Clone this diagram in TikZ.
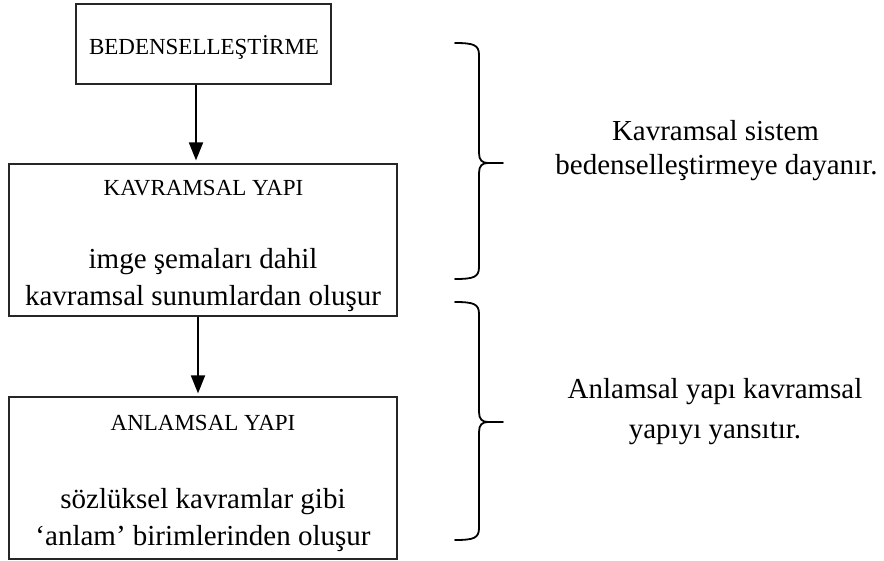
\documentclass[tikz,border=0pt]{standalone}
\usepackage{fontspec}
\setmainfont{Liberation Serif}
\usetikzlibrary{arrows.meta}
\begin{document}
\begin{tikzpicture}[x=1pt,y=-1pt,
  framebox/.style={draw=black!85,line width=1.2pt,inner sep=0pt},
  headtext/.style={anchor=base,font=\fontsize{23}{27}\selectfont},
  bodytext/.style={anchor=base,font=\fontsize{29}{34}\selectfont},
  flow/.style={draw=black,line width=1.8pt,-{Triangle[length=18pt,width=14pt]},shorten >=3pt},
  bracestyle/.style={draw=black,line width=1.8pt,line cap=round,line join=round}]
\useasboundingbox (0,0) rectangle (884,560);

% boxes of the chain
\node[framebox,minimum width=255pt,minimum height=80pt]  (b1) at (203.5,44) {};
\node[framebox,minimum width=388pt,minimum height=152pt] (b2) at (203,240) {};
\node[framebox,minimum width=388pt,minimum height=162pt] (b3) at (203,478) {};

% texts inside the boxes
\node[headtext] (t1)  at (204,54)  {BEDENSELLEŞTİRME};
\node[headtext] (t2)  at (203.5,195) {KAVRAMSAL YAPI};
\node[bodytext] (t2a) at (203,268) {imge şemaları dahil};
\node[bodytext] (t2b) at (203,305) {kavramsal sunumlardan oluşur};
\node[headtext] (t3)  at (203,430) {ANLAMSAL YAPI};
\node[bodytext] (t3a) at (203,508) {sözlüksel kavramlar gibi};
\node[bodytext] (t3b) at (203,545) {‘anlam’ birimlerinden oluşur};

% arrows between the boxes, kept vertical
\draw[flow] ([xshift=-7.5pt]b1.south) -- ([xshift=-7pt]b2.north);
\draw[flow] ([xshift=-5pt]b2.south) -- ([xshift=-5pt]b3.north);

% right-hand braces
\foreach \t/\m/\b in {43/163/279, 302/422/540} {
  \draw[bracestyle] (455,\t) .. controls (474,\t) and (479,\t+2) .. (479,\t+12)
    -- (479,\m-10) .. controls (479,\m-3) and (482,\m) .. (488,\m) -- (503,\m);
  \draw[bracestyle] (455,\b) .. controls (474,\b) and (479,\b-2) .. (479,\b-12)
    -- (479,\m+10) .. controls (479,\m+3) and (482,\m) .. (488,\m);
}

% comments beside the braces
\node[bodytext] (r1a) at (715.5,140) {Kavramsal sistem};
\node[bodytext] (r1b) at (716.5,174) {bedenselleştirmeye dayanır.};
\node[bodytext] (r2a) at (715,398) {Anlamsal yapı kavramsal};
\node[bodytext] (r2b) at (715,438) {yapıyı yansıtır.};
\end{tikzpicture}
\end{document}
